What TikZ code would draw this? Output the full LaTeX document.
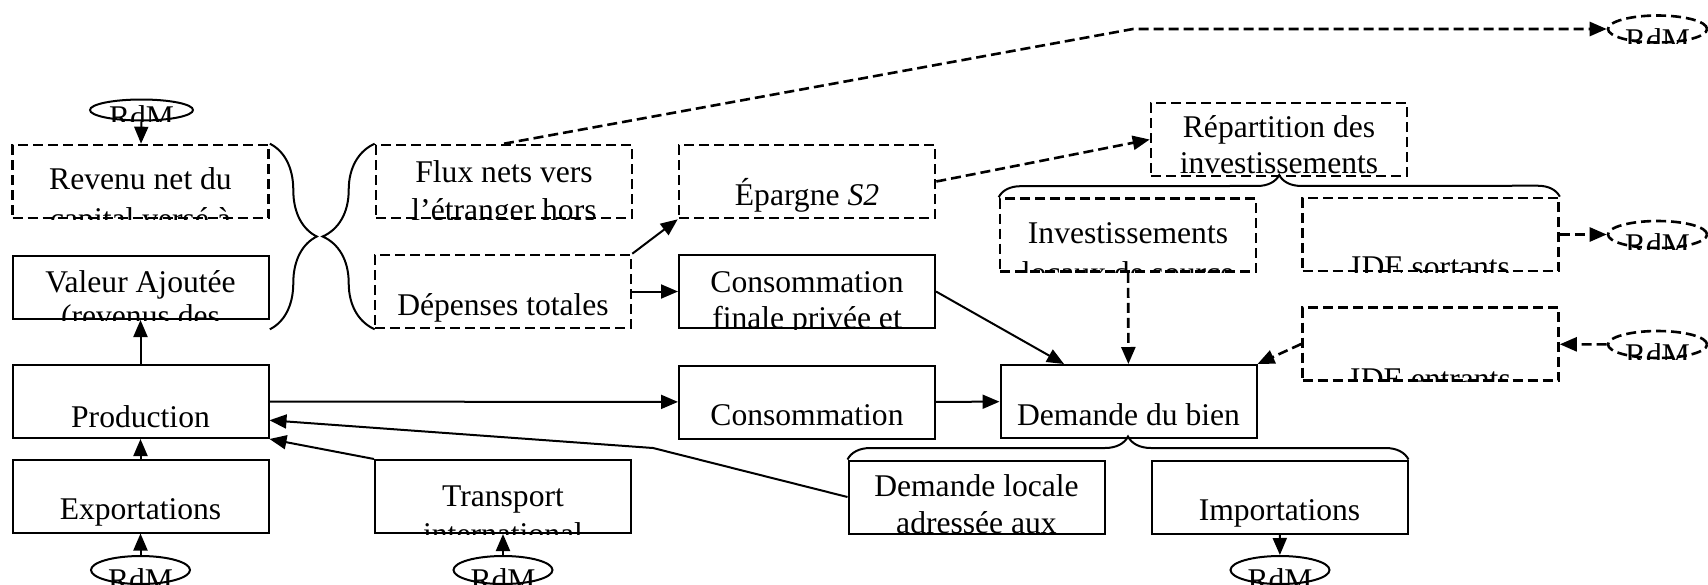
\documentclass[tikz,border=0pt]{standalone}
\usepackage{fontspec}
\setmainfont{Liberation Serif}
\usetikzlibrary{arrows.meta, shapes.geometric, decorations.pathreplacing, calc}
\tikzset{
  >={Triangle[length=8.5pt,width=7pt]},
  box/.style={draw, line width=1pt, minimum width=128pt, minimum height=36.5pt, inner sep=0pt},
  dbox/.style={box, line width=1.3pt, dash pattern=on 5pt off 2.5pt},
  rdm/.style={draw, ellipse, line width=1pt, minimum width=49.5pt, minimum height=13.5pt, inner sep=0pt},
  drdm/.style={rdm, line width=1.3pt, dash pattern=on 5pt off 2.5pt},
  flow/.style={->, line width=1pt},
  dflow/.style={->, line width=1.3pt, dash pattern=on 5pt off 2.5pt},
  accol/.style={decorate, decoration={brace, amplitude=#1}, line width=1pt},
  txt/.style={inner sep=0pt, font=\fontsize{15.8}{18}\selectfont}
}
% text cut off by the frame of its box
\newcommand\cliptext[3]{%
  \begin{scope}
    \clip (#1.west |- #1.north) rectangle (#1.east |- #1.south);
    \node[txt, anchor=base] (#1-#2) at ([yshift=-#2*0.5pt]#1.north) {#3};
  \end{scope}}

\begin{document}
\begin{tikzpicture}[x=0.5pt, y=-0.5pt]
    \useasboundingbox (0,0) rectangle (1708,584);
    % boxes
    % left column
    \node[dbox] (rev) at (140.5,181.5) {};
    \node[box, minimum height=31.5pt] (va) at (140.5,287.5) {};
    \node[box] (prod) at (140.5,401.5) {};
    \node[box] (exp) at (140.5,496) {};
    % second column
    \node[dbox] (flux) at (504,181.5) {};
    \node[dbox] (dep) at (503,291.5) {};
    \node[box] (transp) at (503,496.5) {};
    % third column
    \node[dbox] (epar) at (807,181.5) {};
    \node[box] (consf) at (807,291.5) {};
    \node[box] (cons) at (807,402) {};
    % right part
    \node[dbox] (rep) at (1279,139.5) {};
    \node[dbox] (inv) at (1128,235) {};
    \node[dbox] (ides) at (1430.5,234.5) {};
    \node[dbox] (idee) at (1430.5,344) {};
    \node[box] (dem) at (1128.5,401.5) {};
    \node[box] (dloc) at (976.5,497) {};
    \node[box] (imp) at (1279.5,497) {};
    % rest of the world
    \node[rdm, minimum width=51.5pt, minimum height=10.5pt] (rdm1) at (141.5,110) {};
    \node[drdm] (rdm2) at (1657.5,29) {};
    \node[drdm] (rdm3) at (1657.5,234.5) {};
    \node[drdm] (rdm4) at (1657.5,344.5) {};
    \node[rdm, minimum height=14pt] (rdm5) at (140.5,570) {};
    \node[rdm, minimum height=14pt] (rdm6) at (503,570) {};
    \node[rdm, minimum height=14pt] (rdm7) at (1280,570) {};
    % texts
    \cliptext{rev}{46}{Revenu net du}
    \cliptext{rev}{86}{capital versé à}
    \cliptext{va}{37}{Valeur Ajoutée}
    \cliptext{va}{71}{(revenus des}
    \cliptext{prod}{63}{Production}
    \cliptext{exp}{61}{Exportations}
    \cliptext{flux}{39}{Flux nets vers}
    \cliptext{flux}{77}{l’étranger hors}
    \cliptext{dep}{62}{Dépenses totales}
    \cliptext{transp}{47}{Transport}
    \cliptext{transp}{85}{international}
    \cliptext{epar}{62}{Épargne \textit{S2}}
    \cliptext{consf}{38}{Consommation}
    \cliptext{consf}{74}{finale privée et}
    \cliptext{cons}{61}{Consommation}
    \cliptext{rep}{36}{Répartition des}
    \cliptext{rep}{72}{investissements}
    \cliptext{inv}{46}{Investissements}
    \cliptext{inv}{86}{locaux de source}
    \cliptext{ides}{81}{IDE sortants}
    \cliptext{idee}{83}{IDE entrants}
    \cliptext{dem}{61}{Demande du bien}
    \cliptext{dloc}{37}{Demande locale}
    \cliptext{dloc}{74}{adressée aux}
    \cliptext{imp}{61}{Importations}
    \foreach \r/\off in {rdm1/29, rdm2/36, rdm3/36, rdm4/36, rdm5/35, rdm6/35, rdm7/35}{
        \cliptext{\r}{\off}{RdM}
    }
    % braces
    \draw[accol=23.5pt] (rev.north east) -- (rev.north east |- dep.south);
    \draw[accol=26pt] (flux.north west |- dep.south) -- (flux.north west);
    \draw[accol=11pt] (inv.north west) -- (ides.north east);
    \draw[accol=11.5pt] (dloc.north west) -- (imp.north east);
    % solid flows
    \draw[flow] (rdm1) -- (rev);
    \draw[flow] (prod) -- (va);
    \draw[flow] (exp) -- (prod);
    \draw[flow] (rdm5) -- (exp);
    \draw[flow] (rdm6) -- (transp);
    \draw[flow] (imp) -- (rdm7);
    \draw[flow] (transp.north west) -- (prod.south east);
    \coordinate (kink) at (653,448);
    \draw[flow] (dloc.west) -- (kink) -- ($(prod.east)!0.5!(prod.south east)$);
    \draw[flow] (prod) -- (cons);
    \draw[flow] (cons) -- (dem);
    \draw[flow] (dep) -- (consf);
    \draw[flow] (dep.north east) -- (epar.south west);
    \draw[flow] (consf.east) -- ($(dem.north west)!0.25!(dem.north east)$);
    % dashed flows
    \coordinate (bend) at (1133,29);
    \draw[dflow] (flux.north) -- (bend) -- (rdm2.west);
    \draw[dflow] (epar.east) -- (rep.west);
    \draw[dflow] (inv) -- (dem);
    \draw[dflow] (ides) -- (rdm3);
    \draw[dflow] (rdm4) -- (idee);
    \draw[dflow] (idee.west) -- (dem.north east);
\end{tikzpicture}
\end{document}
